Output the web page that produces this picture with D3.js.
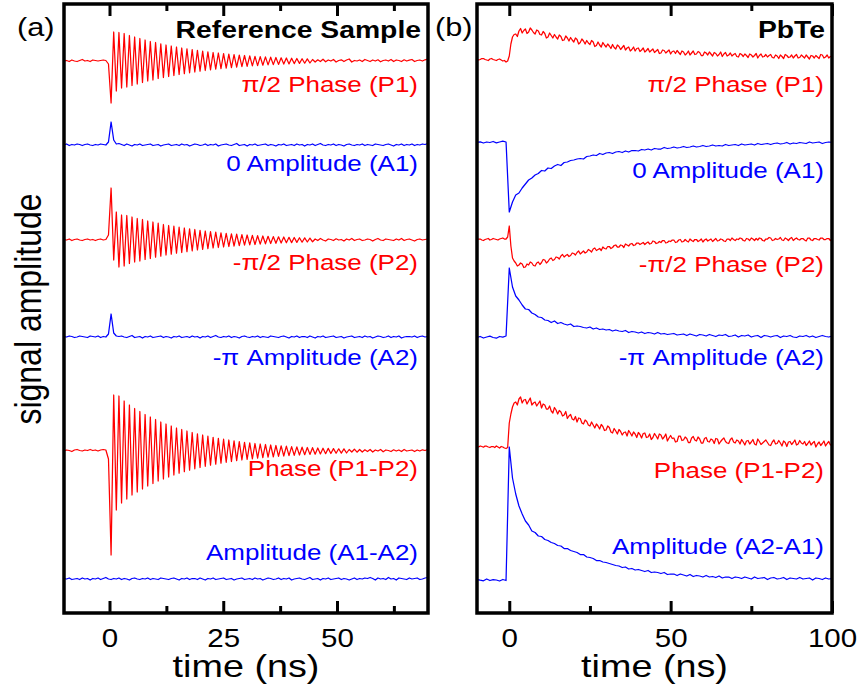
<!DOCTYPE html>
<html>
<head>
<meta charset="utf-8">
<title>Reference Sample vs PbTe</title>
<script src="https://d3js.org/d3.v7.min.js"></script>
<style>
  html, body { margin: 0; padding: 0; background: #fff; }
  svg { display: block; font-family: "Liberation Sans", Arial, sans-serif; }
</style>
</head>
<body>
<svg id="chart" width="858" height="688"></svg>
<script>
// ---- data: reference sample, time grid -10 ns + i*0.575 ns (values relative to each trace baseline)
var refStart = -10, refSteps = [0.575, 0.575, 0.575, 0.575, 0.575, 0.575];
var refLabels = ["\u03c0/2 Phase (P1)", "0 Amplitude (A1)", "-\u03c0/2 Phase (P2)", "-\u03c0 Amplitude (A2)", "Phase (P1-P2)", "Amplitude (A1-A2)"];
var refOffsets = [55.2, 46.8, 37.3, 27.6, 16.2, 3.4];

var refP1 = [0.0,0.05,-0.05,0.1,0.0,-0.05,0.05,0.15,0.0,0.05,-0.05,0.1,0.05,0.0,0.05,0.1,0.05,
  -0.3,-4.2,
  2.9,-3.0,2.85,-2.7,2.75,-2.6,2.55,-2.45,2.4,-2.3,2.25,-2.15,2.1,-2.0,1.95,-1.9,1.85,-1.75,1.72,-1.65,
  1.6,-1.55,1.5,-1.45,1.4,-1.35,1.3,-1.27,1.22,-1.18,1.14,-1.1,1.06,-1.02,0.98,-0.95,0.92,-0.88,0.85,-0.82,
  0.8,-0.76,0.74,-0.71,0.68,-0.66,0.64,-0.61,0.59,-0.57,0.55,-0.53,0.51,-0.49,0.47,-0.46,0.44,-0.42,0.41,-0.39,
  0.38,-0.36,0.35,-0.34,0.32,-0.31,0.3,-0.29,0.28,-0.26,0.25,-0.24,0.23,-0.22,0.21,-0.2,
  0.15,-0.1,0.12,-0.05,0.18,-0.08,0.1,0.0,0.15,-0.1,0.05,0.12,-0.05,0.1,0.2,-0.1,0.05,0.0,0.1,-0.05,
  0.15,0.05,-0.05,0.1,0.0,0.12,-0.08,0.05,0.1,0.0,0.15,-0.05,0.1,0.05,-0.05,0.12,0.0,0.08,0.15,-0.05,
  0.05,0.1,0.0,0.12,0.2];

var refA1 = [0.0,0.1,-0.05,0.05,0.0,0.1,0.05,-0.05,0.05,0.1,0.0,-0.05,0.05,0.0,0.1,0.05,0.0,
  0.3,2.3,0.5,0.1,0.15,
  0.05,-0.05,0.1,0.0,-0.1,0.05,0.0,0.1,-0.05,0.0,
  0.05,0.1,-0.05,0.0,0.05,-0.1,0.0,0.05,0.1,-0.05,
  0.0,0.05,-0.05,0.1,0.0,0.05,-0.1,0.0,0.1,0.05,
  -0.05,0.0,0.1,-0.05,0.05,0.0,0.1,-0.1,0.0,0.05,
  0.1,0.0,-0.05,0.05,0.15,-0.05,0.0,0.05,-0.1,0.05,
  0.0,0.1,-0.05,0.0,0.05,0.1,-0.05,0.05,0.0,-0.1,
  0.05,0.0,0.1,-0.05,0.0,0.05,-0.05,0.1,0.0,0.05,
  -0.1,0.05,0.0,0.1,-0.05,0.05,0.15,0.0,-0.05,0.05,
  0.0,0.1,-0.05,0.05,0.0,-0.1,0.05,0.1,0.0,-0.05,
  0.05,0.0,0.1,-0.05,0.05,0.0,-0.05,0.1,0.05,0.0,
  -0.05,0.05,0.1,0.0,-0.1,0.05,0.0,0.1,-0.05,0.05,
  0.0,0.1,-0.05,0.05,0.0,0.1,0.05,0.15];

var refP2 = [0.05,0.0,0.1,-0.05,0.05,0.1,0.0,-0.05,0.05,0.1,0.0,0.05,-0.05,0.05,0.1,0.0,0.05,
  0.5,5.2,-2.0,
  2.8,-2.7,2.5,-2.6,2.45,-2.35,2.3,-2.2,2.15,-2.1,2.05,-1.95,1.9,-1.85,1.8,-1.72,1.68,-1.62,1.55,-1.5,
  1.45,-1.42,1.38,-1.32,1.28,-1.25,1.2,-1.16,1.12,-1.08,1.05,-1.0,0.97,-0.94,0.9,-0.87,0.84,-0.8,0.78,-0.75,
  0.72,-0.7,0.67,-0.65,0.62,-0.6,0.58,-0.56,0.54,-0.52,0.5,-0.48,0.46,-0.45,0.43,-0.41,0.4,-0.38,0.37,-0.35,
  0.34,-0.33,0.32,-0.3,0.3,-0.28,0.27,-0.26,0.25,-0.24,0.23,-0.22,0.21,-0.2,0.19,-0.18,
  0.1,-0.05,0.15,0.0,-0.1,0.1,0.05,-0.05,0.12,0.0,0.05,-0.1,0.1,0.0,0.15,-0.05,0.05,0.1,-0.05,0.0,
  0.1,0.05,-0.1,0.05,0.15,0.0,-0.05,0.1,0.05,0.0,-0.05,0.1,0.0,0.15,-0.05,0.05,0.1,0.0,-0.1,0.05,
  0.1,0.0,0.05,0.1];

var refA2 = [0.05,0.0,0.1,0.05,-0.05,0.0,0.1,0.05,0.0,-0.05,0.1,0.05,0.0,0.1,-0.05,0.05,0.0,
  0.3,2.3,0.4,0.1,0.05,
  0.1,0.0,-0.05,0.05,0.15,-0.05,0.0,0.05,-0.1,0.05,
  0.0,0.1,-0.05,0.0,0.05,0.1,-0.05,0.05,0.0,-0.1,
  0.05,0.0,0.1,-0.05,0.0,0.05,-0.05,0.1,0.0,0.05,
  -0.1,0.05,0.0,0.1,-0.05,0.05,0.15,0.0,-0.05,0.05,
  0.0,0.1,-0.05,0.05,0.0,-0.1,0.05,0.1,0.0,-0.05,
  0.05,0.0,0.1,-0.05,0.05,0.0,-0.05,0.1,0.05,0.0,
  -0.05,0.05,0.1,0.0,-0.1,0.05,0.0,0.1,-0.05,0.05,
  0.05,-0.05,0.1,0.0,-0.1,0.05,0.0,0.1,-0.05,0.0,
  0.05,0.1,-0.05,0.0,0.05,-0.1,0.0,0.05,0.1,-0.05,
  0.0,0.05,-0.05,0.1,0.0,0.05,-0.1,0.0,0.1,0.05,
  -0.05,0.0,0.1,-0.05,0.05,0.0,0.1,-0.1,0.0,0.05,
  0.05,0.0,0.1,-0.05,0.05,0.1,0.0,0.05];

var refP1P2 = [0.0,0.1,0.05,-0.05,0.1,0.15,0.05,0.0,0.1,0.05,0.15,0.05,0.1,0.0,0.1,0.15,0.1,
  -0.8,-10.4,
  5.6,-5.9,5.5,-5.2,5.0,-4.8,4.6,-4.4,4.25,-4.1,3.95,-3.8,3.65,-3.5,3.4,-3.25,3.15,-3.0,2.9,-2.8,
  2.7,-2.6,2.5,-2.4,2.3,-2.22,2.15,-2.06,2.0,-1.92,1.85,-1.78,1.72,-1.65,1.6,-1.53,1.48,-1.42,1.37,-1.32,
  1.27,-1.22,1.18,-1.13,1.1,-1.05,1.02,-0.97,0.94,-0.9,0.87,-0.84,0.81,-0.78,0.75,-0.72,0.7,-0.67,0.65,-0.62,
  0.6,-0.58,0.55,-0.53,0.51,-0.5,0.48,-0.46,0.44,-0.43,0.41,-0.4,0.38,-0.37,0.35,-0.34,0.33,-0.32,0.3,-0.29,
  0.28,-0.27,0.26,-0.25,0.24,-0.23,0.22,-0.21,0.21,-0.2,
  0.15,-0.1,0.18,-0.12,0.15,-0.1,0.12,-0.05,0.15,-0.1,0.1,0.0,0.15,-0.08,0.1,0.05,-0.05,0.12,0.0,0.1,
  -0.05,0.15,0.0,0.05,0.1,-0.05,0.1,0.0,0.12,0.05,0.15];

var refA1A2 = [0.05,0.0,0.1,-0.05,0.0,0.05,-0.05,0.1,0.0,0.05,
  -0.1,0.05,0.0,0.1,-0.05,0.05,0.15,0.0,-0.05,0.05,
  0.0,0.1,-0.05,0.05,0.0,-0.1,0.05,0.1,0.0,-0.05,
  0.05,0.0,0.1,-0.05,0.05,0.0,-0.05,0.1,0.05,0.0,
  -0.05,0.05,0.1,0.0,-0.1,0.05,0.0,0.1,-0.05,0.05,
  0.05,-0.05,0.1,0.0,-0.1,0.05,0.0,0.1,-0.05,0.0,
  0.05,0.1,-0.05,0.0,0.05,-0.1,0.0,0.05,0.1,-0.05,
  0.0,0.05,-0.05,0.1,0.0,0.05,-0.1,0.0,0.1,0.05,
  -0.05,0.0,0.1,-0.05,0.05,0.0,0.1,-0.1,0.0,0.05,
  0.1,0.0,-0.05,0.05,0.15,-0.05,0.0,0.05,-0.1,0.05,
  0.0,0.1,-0.05,0.0,0.05,0.1,-0.05,0.05,0.0,-0.1,
  0.0,0.1,-0.05,0.05,0.0,0.1,0.05,0.15,
  0.05,-0.1,0.1,0.0,0.05,-0.05,0.15,0.0,0.05,-0.1,0.1,0.05,0.0,-0.05,0.1,0.0,0.05,0.1,-0.05,0.0,0.1,0.15];

// ---- data: PbTe, time grid -10 ns + i*step (red traces every 0.5 ns, blue every 1 ns)
var pbStart = -10, pbSteps = [0.5, 1, 0.5, 1, 0.5, 1];
var pbLabels = ["\u03c0/2 Phase (P1)", "0 Amplitude (A1)", "-\u03c0/2 Phase (P2)", "-\u03c0 Amplitude (A2)", "Phase (P1-P2)", "Amplitude (A2-A1)"];
var pbOffsets = [55.3, 47.0, 37.3, 27.6, 16.6, 3.3];

var pbP1 = [0.1,0.0,0.05,0.15,0.15,0.05,0.0,-0.05,0.1,0.15,0.05,0.0,-0.05,0.05,0.1,0.0,-0.1,-0.05,-0.2,-0.1,
  0.4,1.6,
  2.3,2.55,2.6,2.35,2.9,3.15,2.7,2.95,3.1,2.65,2.8,3.2,3.0,2.75,2.6,3.0,2.9,2.55,2.5,2.85,
  2.65,2.2,2.3,2.7,2.45,2.2,2.55,2.3,2.1,2.5,2.35,1.95,2.0,2.4,2.2,1.9,2.25,2.0,1.8,2.2,
  2.05,1.6,1.75,2.1,1.9,1.6,1.95,1.7,1.55,1.95,1.8,1.35,1.45,1.8,1.5,1.3,1.75,1.5,1.3,1.6,
  1.4,1.15,1.55,1.25,1.1,1.5,1.35,1.05,1.25,1.45,1.0,1.2,1.3,0.9,1.05,1.3,0.9,1.15,1.2,0.85,
  1.0,1.2,0.8,0.95,1.15,0.8,0.95,1.1,0.75,0.9,1.05,0.65,0.7,1.0,0.95,0.7,0.85,1.0,0.6,0.85,
  0.9,0.65,0.95,0.75,0.55,0.9,0.8,0.5,0.65,0.9,0.5,0.7,0.9,0.55,0.6,0.85,0.75,0.45,0.45,0.8,
  0.7,0.5,0.8,0.6,0.4,0.75,0.65,0.4,0.55,0.8,0.35,0.6,0.75,0.4,0.5,0.7,0.4,0.55,0.65,0.35,
  0.3,0.65,0.55,0.35,0.6,0.45,0.25,0.6,0.5,0.3,0.45,0.65,0.2,0.45,0.6,0.3,0.35,0.55,0.3,0.45,
  0.55,0.25,0.2,0.5,0.4,0.15,0.5,0.35,0.15,0.55,0.45,0.25,0.3,0.5,0.2,0.4,0.55,0.2,0.25,0.5,
  0.35,0.2,0.5,0.3,0.1,0.45,0.4,0.2,0.45,0.3,0.15,0.55,0.5,0.2,0.3,0.5,0.2,0.35,0.4];

var pbA1 = [0.05,0.12,0.0,0.1,0.05,0.15,0.02,0.1,0.18,0.1,
  -6.9,
  -5.9,-5.2,-5.0,-4.5,-4.1,-3.7,-3.5,-3.2,-3.05,-2.75,
  -2.8,-2.5,-2.55,-2.3,-2.15,-2.25,-1.95,-1.9,-1.75,-1.7,
  -1.6,-1.55,-1.6,-1.35,-1.3,-1.2,-1.25,-1.05,-1.15,-1.0,
  -0.95,-1.05,-0.9,-0.85,-0.95,-0.8,-0.9,-0.75,-0.75,-0.8,
  -0.65,-0.7,-0.6,-0.7,-0.55,-0.6,-0.6,-0.45,-0.55,-0.5,
  -0.4,-0.5,-0.45,-0.35,-0.45,-0.4,-0.3,-0.4,-0.35,-0.25,
  -0.35,-0.3,-0.2,-0.3,-0.25,-0.3,-0.15,-0.25,-0.2,-0.15,
  -0.25,-0.1,-0.2,-0.15,-0.1,-0.2,-0.05,-0.15,-0.1,-0.05,
  -0.15,-0.05,0.0,-0.1,-0.05,0.05,-0.1,0.0,-0.05,0.05,
  0.0,-0.05,0.1,0.0,0.05,0.1,-0.05,0.05,0.1,0.05];

var pbP2 = [0.05,0.1,0.1,0.0,-0.05,0.05,0.1,0.15,0.0,0.05,0.15,0.1,0.05,0.0,0.1,0.15,0.2,0.1,0.1,0.3,
  1.4,-0.6,
  -1.8,-2.1,-2.3,-2.6,-2.5,-2.3,-2.4,-2.75,-2.7,-2.4,-2.5,-2.2,-2.3,-2.55,-2.6,-2.3,-2.2,-2.45,-2.25,-1.95,
  -2.0,-2.3,-2.15,-1.9,-1.8,-2.05,-1.95,-1.7,-1.75,-1.9,-1.6,-1.45,-1.7,-1.55,-1.45,-1.65,-1.55,-1.3,-1.35,-1.5,
  -1.25,-1.1,-1.4,-1.25,-1.1,-1.3,-1.2,-0.95,-1.05,-1.2,-0.9,-0.8,-1.05,-0.95,-0.85,-1.05,-0.7,-0.85,-0.9,-0.65,
  -0.65,-0.85,-0.75,-0.55,-0.5,-0.7,-0.7,-0.5,-0.55,-0.75,-0.4,-0.5,-0.6,-0.4,-0.35,-0.55,-0.5,-0.3,-0.3,-0.45,
  -0.35,-0.25,-0.45,-0.3,-0.2,-0.4,-0.35,-0.1,-0.15,-0.35,-0.3,-0.15,-0.25,-0.05,-0.05,-0.3,-0.25,-0.1,-0.15,0.0,
  0.0,-0.25,-0.2,0.0,0.05,-0.2,-0.15,0.05,-0.1,-0.2,0.1,-0.05,-0.15,0.05,0.05,-0.15,-0.05,0.1,-0.2,0.0,
  0.1,-0.1,0.0,0.1,-0.15,0.0,0.15,-0.1,-0.05,0.1,0.05,-0.1,-0.15,0.1,0.1,-0.05,0.2,0.05,-0.05,0.1,
  0.05,0.2,0.15,-0.05,-0.1,0.15,0.1,-0.05,0.2,0.1,-0.05,0.15,0.0,0.2,0.15,-0.05,-0.1,0.1,0.1,0.25,
  0.2,-0.05,0.0,0.15,0.05,0.1,0.25,0.0,-0.05,0.2,0.1,-0.05,0.15,0.25,-0.05,0.1,0.2,0.05,0.0,0.15,
  0.15,0.0,-0.1,0.2,0.2,0.0,-0.05,0.15,0.15,0.05,0.0,0.2,0.2,0.05,0.05,0.15,0.15,-0.05,0.1];

var pbA2 = [-0.05,0.05,-0.1,0.0,0.08,-0.05,-0.12,0.05,-0.02,0.1,
  6.9,
  5.0,4.1,3.7,3.2,2.8,2.75,2.4,2.25,2.0,1.95,
  1.7,1.65,1.45,1.6,1.35,1.45,1.3,1.2,1.3,1.05,
  1.1,1.05,0.95,0.9,1.0,0.8,0.9,0.75,0.8,0.7,
  0.75,0.6,0.7,0.6,0.55,0.65,0.45,0.55,0.5,0.4,
  0.5,0.35,0.45,0.4,0.3,0.45,0.3,0.35,0.25,0.3,
  0.35,0.2,0.25,0.3,0.15,0.3,0.2,0.1,0.25,0.2,
  0.1,0.25,0.15,0.05,0.2,0.15,0.25,0.05,0.1,0.2,
  0.0,0.15,0.1,0.2,0.0,0.1,0.15,-0.05,0.15,0.1,
  0.0,0.1,0.15,-0.05,0.1,0.05,0.15,0.0,-0.05,0.1,
  0.05,0.15,0.0,0.1,-0.05,0.05,0.15,0.05,0.0,0.1];

var pbP1P2 = [0.05,0.0,0.1,0.05,-0.02,0.1,0.08,0.0,-0.05,0.05,0.05,-0.05,0.1,0.0,-0.1,0.05,0.0,-0.1,-0.15,-0.05,
  2.4,3.3,
  4.0,4.4,4.5,4.2,4.8,5.0,4.4,4.7,4.75,4.3,4.6,4.9,4.2,4.4,4.5,4.1,4.35,4.6,3.9,4.3,
  4.2,3.8,3.8,4.1,3.6,3.4,3.95,3.7,3.3,3.65,3.5,3.1,3.2,3.55,2.85,3.1,3.25,2.8,2.7,3.05,
  2.5,2.9,2.85,2.4,2.3,2.7,2.55,2.2,2.1,2.5,2.2,1.9,2.3,2.1,1.8,2.25,2.05,1.65,1.7,2.1,
  1.95,1.5,1.4,1.85,1.6,1.3,1.75,1.55,1.2,1.45,1.5,1.1,1.65,1.4,1.1,1.5,1.3,0.95,1.45,1.25,
  0.9,1.35,1.4,0.95,1.0,1.3,0.75,0.95,1.35,1.1,0.8,1.3,1.2,0.8,1.0,1.3,0.6,0.9,1.15,0.85,
  0.9,0.5,0.55,1.1,1.1,0.65,0.7,1.0,0.85,0.45,0.45,0.9,1.05,0.7,0.6,1.0,0.8,0.4,0.4,0.85,
  0.95,0.55,0.5,0.8,0.7,0.35,0.85,0.8,0.3,0.55,0.75,0.9,0.55,0.4,0.35,0.75,0.9,0.5,0.4,0.7,
  0.6,0.3,0.75,0.5,0.2,0.6,0.65,0.3,0.5,0.75,0.3,0.2,0.8,0.55,0.25,0.4,0.55,0.7,0.45,0.2,
  0.15,0.5,0.7,0.3,0.35,0.65,0.4,0.1,0.6,0.45,0.05,0.5,0.55,0.25,0.45,0.7,0.2,0.3,0.65,0.4,
  0.3,0.55,0.15,0.35,0.6,0.2,0.4,0.55,0.0,0.3,0.5,0.15,0.35,0.6,0.1,0.35,0.55,0.2,0.25];

var pbA2A1 = [0.05,-0.02,-0.08,0.1,-0.05,0.04,0.0,-0.1,0.05,-0.05,
  13.3,
  10.2,8.6,7.4,6.6,5.9,5.5,4.9,4.75,4.4,4.35,
  4.05,3.95,3.75,3.65,3.45,3.4,3.15,3.15,2.95,2.85,
  2.75,2.55,2.55,2.3,2.25,2.15,1.95,1.95,1.8,1.75,
  1.65,1.55,1.45,1.4,1.25,1.3,1.1,1.15,1.0,1.05,
  0.95,0.85,0.95,0.75,0.8,0.75,0.65,0.75,0.55,0.6,
  0.6,0.45,0.6,0.5,0.4,0.55,0.35,0.45,0.4,0.3,
  0.45,0.3,0.35,0.25,0.4,0.2,0.3,0.3,0.15,0.3,
  0.25,0.15,0.3,0.2,0.1,0.3,0.15,0.2,0.25,0.05,
  0.2,0.25,0.1,0.15,0.25,0.05,0.2,0.15,0.1,0.25,
  0.1,0.15,0.2,0.0,0.2,0.15,0.05,0.2,0.1,0.15];

var traceColors = ["#ff0000", "#0000ff", "#ff0000", "#0000ff", "#ff0000", "#0000ff"];

// ---- layout
var SX = 1.18; // text in the source figure is drawn horizontally stretched
var svg = d3.select("#chart");
var y = d3.scaleLinear().domain([0, 60.9]).range([613, 4]);

function stext(g, x, yy, str, size, anchor, color, weight) {
    return g.append("text")
        .attr("transform", "translate(" + x + "," + yy + ") scale(" + SX + ",1)")
        .attr("text-anchor", anchor)
        .attr("font-size", size)
        .attr("font-weight", weight || "normal")
        .attr("fill", color)
        .text(str);
}

function drawPanel(p) {
    var x = d3.scaleLinear().domain(p.domain).range([p.left, p.right]);
    var g = svg.append("g");

    svg.append("clipPath").attr("id", "clip-" + p.id)
        .append("rect").attr("x", p.left).attr("y", 4).attr("width", p.right - p.left).attr("height", 609);

    var traces = g.append("g").attr("clip-path", "url(#clip-" + p.id + ")");
    p.series.forEach(function(vals, k) {
        var line = d3.line()
            .x(function(d, i) { return x(p.start + i * p.steps[k]); })
            .y(function(d) { return y(p.offsets[k] + d); });
        traces.append("path")
            .datum(vals)
            .attr("d", line)
            .attr("fill", "none")
            .attr("stroke", traceColors[k])
            .attr("stroke-width", 1.25)
            .attr("stroke-linejoin", "round");
    });

    // trace labels
    p.labels.forEach(function(s, k) {
        stext(g, p.labelX, p.labelY[k], s, 22, "end", traceColors[k]);
    });

    // ticks: major + minor, bottom and top, pointing inward
    var bottom = g.append("g").attr("transform", "translate(0,613)")
        .call(d3.axisBottom(x).tickValues(p.major).tickSizeInner(-12).tickSizeOuter(0).tickPadding(16));
    var bottomMinor = g.append("g").attr("transform", "translate(0,613)")
        .call(d3.axisBottom(x).tickValues(p.minor).tickSizeInner(-7).tickSizeOuter(0).tickFormat(""));
    var top = g.append("g").attr("transform", "translate(0,4)")
        .call(d3.axisTop(x).tickValues(p.major).tickSizeInner(-12).tickSizeOuter(0).tickFormat(""));
    var topMinor = g.append("g").attr("transform", "translate(0,4)")
        .call(d3.axisTop(x).tickValues(p.minor).tickSizeInner(-7).tickSizeOuter(0).tickFormat(""));

    [bottom, bottomMinor, top, topMinor].forEach(function(a) {
        a.select(".domain").remove();
        a.selectAll(".tick line").attr("stroke", "#000").attr("stroke-width", 3);
    });
    bottom.selectAll(".tick text")
        .attr("font-family", "Liberation Sans, Arial, sans-serif")
        .attr("font-size", 25)
        .attr("fill", "#000")
        .attr("transform", "scale(" + SX + ",1)");

    // frame
    g.append("rect")
        .attr("x", p.left).attr("y", 4)
        .attr("width", p.right - p.left).attr("height", 609)
        .attr("fill", "none").attr("stroke", "#000").attr("stroke-width", 3.5);

    stext(g, p.titleX, 38, p.title, 24, "end", "#000", "bold");
    stext(g, p.tagX, 36, p.tag, 26, "start", "#000");
    stext(g, (p.left + p.right) / 2, 677, "time (ns)", 32, "middle", "#000");
}

drawPanel({
    id: "a", tag: "(a)", tagX: 17, title: "Reference Sample", titleX: 421,
    left: 64, right: 428, domain: [-10, 70],
    major: [0, 25, 50], minor: [12.5, 37.5, 62.5],
    start: refStart, steps: refSteps,
    series: [refP1, refA1, refP2, refA2, refP1P2, refA1A2],
    offsets: refOffsets, labels: refLabels,
    labelX: 418, labelY: [92, 171, 270, 365, 476, 560]
});

drawPanel({
    id: "b", tag: "(b)", tagX: 435, title: "PbTe", titleX: 825,
    left: 477, right: 832, domain: [-10, 100],
    major: [0, 50, 100], minor: [25, 75],
    start: pbStart, steps: pbSteps,
    series: [pbP1, pbA1, pbP2, pbA2, pbP1P2, pbA2A1],
    offsets: pbOffsets, labels: pbLabels,
    labelX: 824, labelY: [92, 178, 272, 365, 478, 554]
});

// y axis title
svg.append("text")
    .attr("transform", "translate(41,309) rotate(-90) scale(1," + SX + ")")
    .attr("text-anchor", "middle")
    .attr("font-size", 32)
    .attr("fill", "#000")
    .text("signal amplitude");
</script>
</body>
</html>
